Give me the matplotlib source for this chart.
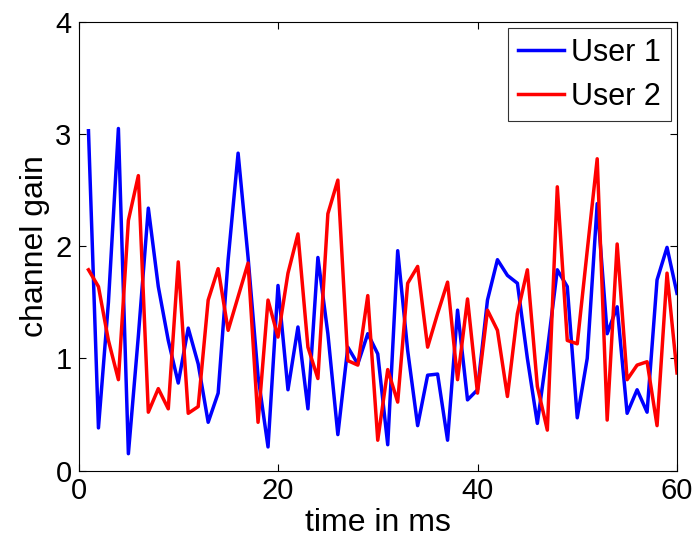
import matplotlib
matplotlib.use("Agg")
import matplotlib.pyplot as plt

plt.rcParams['font.family'] = ['Liberation Sans', 'DejaVu Sans']

time_ms = list(range(1, 61))
user1 = [3.03, 0.38, 1.5, 3.05, 0.15, 1.2, 2.34, 1.64, 1.16, 0.78,
         1.27, 0.95, 0.43, 0.69, 1.88, 2.83, 1.9, 0.84, 0.21, 1.65,
         0.72, 1.28, 0.55, 1.9, 1.22, 0.32, 1.1, 0.95, 1.22, 1.04,
         0.23, 1.96, 1.07, 0.4, 0.85, 0.86, 0.27, 1.43, 0.63, 0.72,
         1.52, 1.88, 1.74, 1.67, 1.0, 0.42, 1.07, 1.79, 1.64, 0.47,
         1.0, 2.38, 1.22, 1.46, 0.51, 0.72, 0.52, 1.7, 1.99, 1.58]
user2 = [1.79, 1.64, 1.16, 0.81, 2.23, 2.63, 0.52, 0.73, 0.55, 1.86,
         0.51, 0.57, 1.52, 1.8, 1.25, 1.55, 1.85, 0.43, 1.52, 1.19,
         1.76, 2.11, 1.1, 0.82, 2.29, 2.59, 0.98, 0.94, 1.56, 0.27,
         0.9, 0.61, 1.67, 1.82, 1.1, 1.4, 1.68, 0.81, 1.53, 0.69,
         1.43, 1.25, 0.66, 1.4, 1.79, 0.75, 0.36, 2.53, 1.16, 1.13,
         1.96, 2.78, 0.45, 2.02, 0.81, 0.94, 0.97, 0.4, 1.76, 0.87]
series_names = ["User 1", "User 2"]
x_ticks = [0, 20, 40, 60]
y_ticks = [0, 1, 2, 3, 4]

fig = plt.figure(figsize=(6.95, 5.43), dpi=100)
ax = fig.add_axes([78.5/695, 1-470.5/543, (677-78.5)/695, (470.5-22)/543])
ax.plot(time_ms, user1, color=(0, 0, 1), lw=2.5, label=series_names[0])
ax.plot(time_ms, user2, color=(1, 0, 0), lw=2.5, label=series_names[1])
ax.set_xlim(0, 60)
ax.set_ylim(0, 4)
ax.set_xticks(x_ticks)
ax.set_yticks(y_ticks)
ax.tick_params(direction='in', length=5, width=0.8, labelsize=21,
               top=True, right=True, pad=5)
for s in ax.spines.values():
    s.set_linewidth(0.8)
ax.set_xlabel("time in ms", fontsize=23, labelpad=2)
ax.set_ylabel("channel gain", fontsize=23, labelpad=4)
leg = ax.legend(loc='upper right', fontsize=22, frameon=True, fancybox=False,
                edgecolor='black', handlelength=1.5, handletextpad=0.25,
                borderpad=0.32, labelspacing=0.45, borderaxespad=0.2)
leg.get_frame().set_linewidth(0.8)
for h in leg.get_lines():
    h.set_linewidth(2.5)
fig.savefig("out.png", dpi=100)
